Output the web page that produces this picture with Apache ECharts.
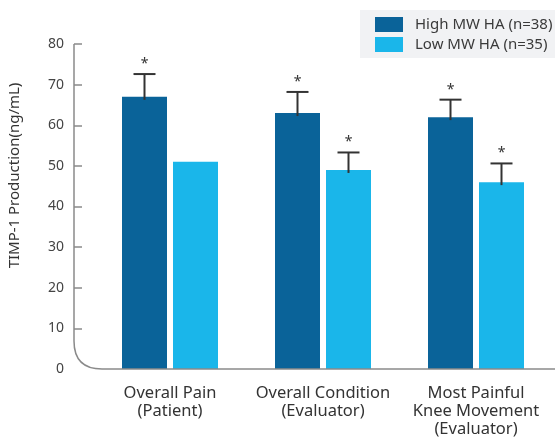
<!DOCTYPE html>
<html><head><meta charset="utf-8">
<script src="https://cdn.jsdelivr.net/npm/echarts@6/dist/echarts.min.js"></script>
<style>html,body{margin:0;padding:0;background:#fff}#c{width:555px;height:439px}</style>
</head><body><div id="c"></div>
<script>
// ---- data ----
const categories = ['Overall Pain\n(Patient)', 'Overall Condition\n(Evaluator)', 'Most Painful\nKnee Movement\n(Evaluator)'];
const seriesNames = ['High MW HA (n=38)', 'Low MW HA (n=35)'];
const highMW = [67, 63, 62];
const lowMW = [51, 49, 46];
const highErr = [5.6, 5.2, 4.3];
const lowErr = [null, 4.3, 4.6];
const highSig = [1, 1, 1];
const lowSig = [0, 1, 1];
const yTickValues = [10, 20, 30, 40, 50, 60, 70, 80];
const yLabelValues = [0, 10, 20, 30, 40, 50, 60, 70, 80];
const yName = 'TIMP-1 Production(ng/mL)';

// ---- style ----
const FONT = 'Noto Sans';
const DARK = '#0a6399';
const LIGHT = '#1ab6ea';
const BAR_W = 45, BAR_GAP = 6;
const GRID_LEFT = 93.5;
const AXIS_OFFSET = 19.5;
const AXIS_COLOR = '#8a8a8a';
const ERR_COLOR = '#333';

function errData(vals, errs, sig) {
  const out = [];
  vals.forEach((v, i) => { if (errs[i] != null) out.push([i, v, errs[i], sig[i]]); });
  return out;
}
function errRender(side) {
  return function (params, api) {
    const ci = api.value(0), v = api.value(1), e = api.value(2), s = api.value(3);
    const off = side * (BAR_W + BAR_GAP) / 2;
    const b = api.coord([ci, v]);
    const t = api.coord([ci, v + e]);
    const x = b[0] + off;
    const children = [
      { type: 'line', shape: { x1: x, y1: b[1] + 3, x2: x, y2: t[1] }, style: { stroke: ERR_COLOR, lineWidth: 2 } },
      { type: 'line', shape: { x1: x - 11, y1: t[1], x2: x + 11, y2: t[1] }, style: { stroke: ERR_COLOR, lineWidth: 2 } }
    ];
    if (s) children.push({ type: 'text', x: x, y: t[1] - 3, style: { text: '*', fill: ERR_COLOR, font: '14px ' + FONT, align: 'center', verticalAlign: 'bottom' } });
    return { type: 'group', children };
  };
}

const chart = echarts.init(document.getElementById('c'), null, { renderer: 'canvas' });
chart.setOption({
  animation: false,
  textStyle: { fontFamily: FONT },
  grid: { left: GRID_LEFT, right: 2.5, top: 44, bottom: 70, containLabel: false, outerBoundsMode: 'none' },
  legend: {
    data: seriesNames, orient: 'vertical', left: 360, top: 10,
    backgroundColor: '#f1f2f4', borderRadius: 0,
    padding: [5.5, 10, 4.5, 15], itemGap: 2, itemWidth: 28, itemHeight: 15,
    icon: 'rect',
    textStyle: { fontSize: 15, lineHeight: 18, color: '#3a3a3a', fontFamily: FONT, padding: [0, 0, 0, 7] }
  },
  xAxis: {
    type: 'category', data: categories,
    axisLine: { show: false }, axisTick: { show: false },
    axisLabel: { interval: 0, fontSize: 16.5, color: '#333', lineHeight: 18, margin: 15, fontFamily: FONT }
  },
  yAxis: {
    type: 'value', min: 0, max: 80, interval: 10, offset: AXIS_OFFSET,
    name: yName, nameLocation: 'middle', nameGap: 52, nameRotate: 90,
    nameTextStyle: { fontSize: 15, color: '#333', fontFamily: FONT, padding: [0, 0, 0, 62] },
    axisLine: { show: false },
    axisTick: { show: true, inside: true, length: 8, customValues: yTickValues, lineStyle: { color: AXIS_COLOR, width: 1.5 } },
    axisLabel: { fontSize: 14, color: '#444', margin: 10, customValues: yLabelValues, fontFamily: FONT },
    splitLine: { show: false }
  },
  series: [
    { name: seriesNames[0], type: 'bar', data: highMW, barWidth: BAR_W, barGap: (BAR_GAP / BAR_W * 100) + '%', itemStyle: { color: DARK } },
    { name: seriesNames[1], type: 'bar', data: lowMW, barWidth: BAR_W, itemStyle: { color: LIGHT } },
    { type: 'custom', renderItem: errRender(-1), data: errData(highMW, highErr, highSig), z: 5, silent: true },
    { type: 'custom', renderItem: errRender(1), data: errData(lowMW, lowErr, lowSig), z: 5, silent: true }
  ]
});

// axis frame with rounded corner, computed from the axis scale
const y80 = chart.convertToPixel({ yAxisIndex: 0 }, 80);
const y0 = chart.convertToPixel({ yAxisIndex: 0 }, 0);
const x0 = GRID_LEFT - AXIS_OFFSET;
const R = 28;
const axisStyle = { stroke: AXIS_COLOR, lineWidth: 1.5, fill: null };
chart.setOption({
  graphic: [
    { type: 'line', silent: true, z: 10, shape: { x1: x0, y1: y80, x2: x0, y2: y0 - R }, style: axisStyle },
    { type: 'bezierCurve', silent: true, z: 10, shape: { x1: x0, y1: y0 - R, cpx1: x0, cpy1: y0, x2: x0 + R, y2: y0 }, style: axisStyle },
    { type: 'line', silent: true, z: 10, shape: { x1: x0 + R, y1: y0, x2: 555, y2: y0 }, style: axisStyle }
  ]
});
</script></body></html>
